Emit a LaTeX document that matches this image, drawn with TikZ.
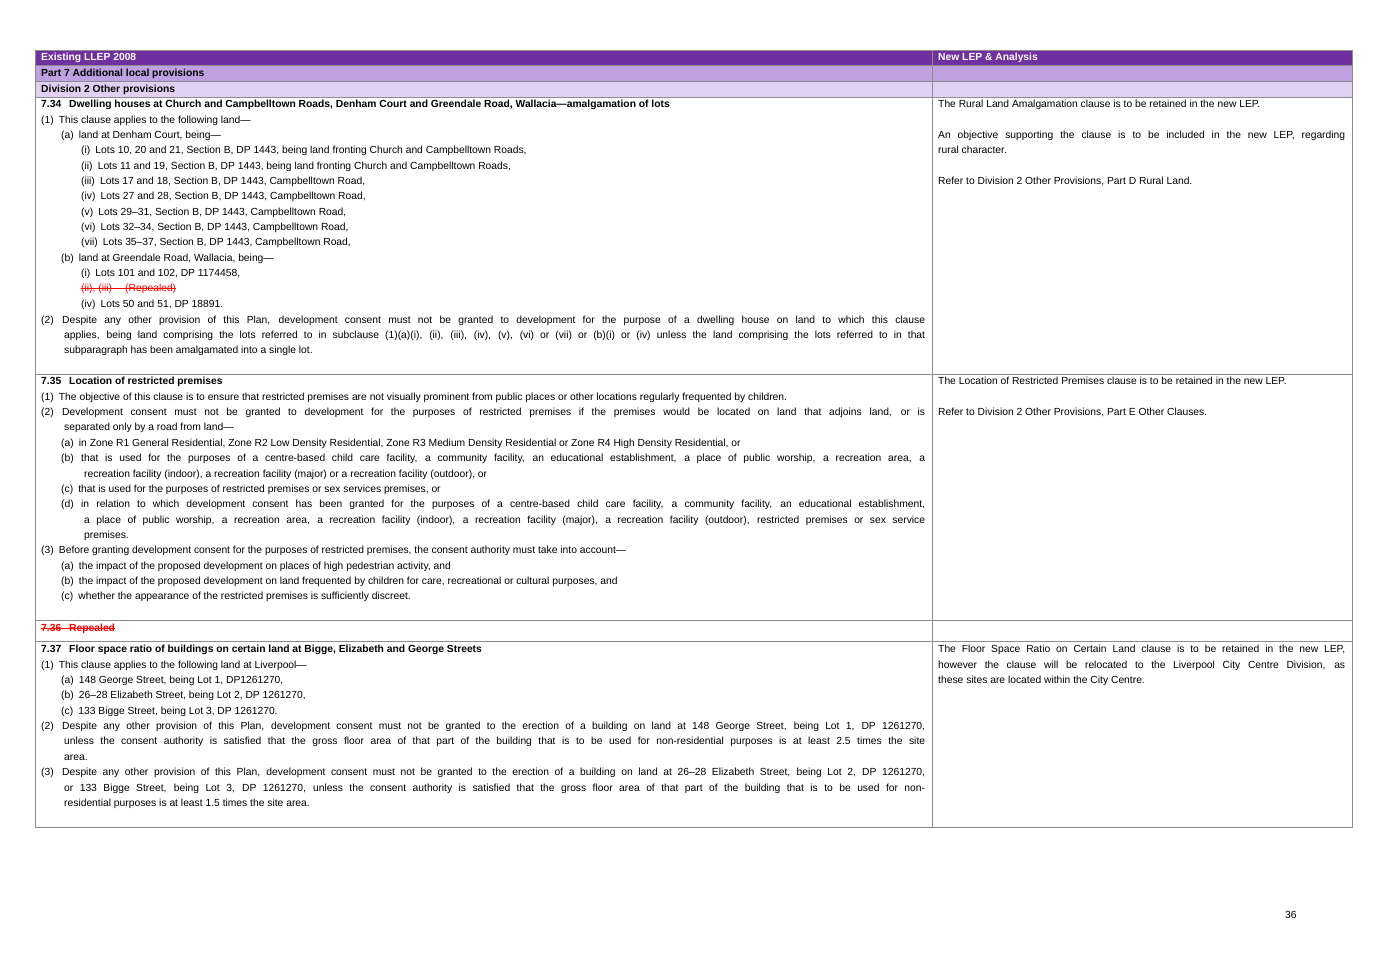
\documentclass[tikz,border=0pt]{standalone}
\usepackage{fontspec}
\setmainfont{Liberation Sans}
\definecolor{hdA}{HTML}{7030A0}
\definecolor{hdB}{HTML}{BFA0E0}
\definecolor{hdC}{HTML}{E2D0F2}
\definecolor{gridc}{HTML}{8C8C8C}
\definecolor{redc}{HTML}{FF0000}
\newcommand\strk[1]{\setbox0\hbox{#1}\rlap{\rule[0.3em]{\wd0}{0.6pt}}\box0}
\newcounter{ln}
\tikzset{txt/.style={anchor=base west,inner sep=0pt,font=\fontsize{10.3}{12}\selectfont}}
\newcommand\tl[3]{\stepcounter{ln}\node[txt] (t\theln) at (#1,#2+3.7) {#3};}
\newcommand\jl[4]{\stepcounter{ln}\node[txt] (t\theln) at (#1,#2+3.7) {\hbox to #3pt{#4}};}
\begin{document}
\begin{tikzpicture}[x=1pt,y=-1pt]
\useasboundingbox (0,0) rectangle (1382,977);
\fill[white] (0,0) rectangle (1382,977);
% header fills
\fill[hdA] (35,50) rectangle (1352,65);
\fill[hdB] (35,65) rectangle (1352,81);
\fill[hdC] (35,81) rectangle (1352,97);
% grid
\draw[gridc,line width=0.8pt] (35,50) rectangle (1352,827);
\draw[gridc,line width=0.8pt] (932,50) -- (932,827);
\foreach \yy in {65,81,97,374,620,641} \draw[gridc,line width=0.8pt] (35,\yy) -- (1352,\yy);
% headers
\tl{41}{57}{\color{white}\bfseries Existing LLEP 2008}
\tl{938}{57}{\color{white}\bfseries New LEP \& Analysis}
\tl{41}{73}{\bfseries Part 7 Additional local provisions}
\tl{41}{89}{\bfseries Division 2 Other provisions}
% 7.34
\tl{41}{104}{\bfseries 7.34\enspace\ Dwelling houses at Church and Campbelltown Roads, Denham Court and Greendale Road, Wallacia—amalgamation of lots}
\tl{41}{120}{(1)\enspace This clause applies to the following land—}
\tl{61}{135}{(a)\enspace land at Denham Court, being—}
\tl{81}{150}{(i)\enspace Lots 10, 20 and 21, Section B, DP 1443, being land fronting Church and Campbelltown Roads,}
\tl{81}{166}{(ii)\enspace Lots 11 and 19, Section B, DP 1443, being land fronting Church and Campbelltown Roads,}
\tl{81}{181}{(iii)\enspace Lots 17 and 18, Section B, DP 1443, Campbelltown Road,}
\tl{81}{196}{(iv)\enspace Lots 27 and 28, Section B, DP 1443, Campbelltown Road,}
\tl{81}{212}{(v)\enspace Lots 29–31, Section B, DP 1443, Campbelltown Road,}
\tl{81}{227}{(vi)\enspace Lots 32–34, Section B, DP 1443, Campbelltown Road,}
\tl{81}{242}{(vii)\enspace Lots 35–37, Section B, DP 1443, Campbelltown Road,}
\tl{61}{258}{(b)\enspace land at Greendale Road, Wallacia, being—}
\tl{81}{273}{(i)\enspace Lots 101 and 102, DP 1174458,}
\tl{81}{288}{\color{redc}\strk{(ii), (iii)\quad\ (Repealed)}}
\tl{81}{304}{(iv)\enspace Lots 50 and 51, DP 18891.}
\tl{41}{320}{(2)}
\jl{62}{320}{863}{Despite any other provision of this Plan, development consent must not be granted to development for the purpose of a dwelling house on land to which this clause}
\jl{64}{335}{861}{applies, being land comprising the lots referred to in subclause (1)(a)(i), (ii), (iii), (iv), (v), (vi) or (vii) or (b)(i) or (iv) unless the land comprising the lots referred to in that}
\tl{64}{350}{subparagraph has been amalgamated into a single lot.}
\tl{938}{104}{The Rural Land Amalgamation clause is to be retained in the new LEP.}
\jl{938}{135}{407}{An objective supporting the clause is to be included in the new LEP, regarding}
\tl{938}{150}{rural character.}
\tl{938}{181}{Refer to Division 2 Other Provisions, Part D Rural Land.}
% 7.35
\tl{41}{381}{\bfseries 7.35\enspace\ Location of restricted premises}
\tl{41}{397}{(1)\enspace The objective of this clause is to ensure that restricted premises are not visually prominent from public places or other locations regularly frequented by children.}
\tl{41}{412}{(2)}
\jl{62}{412}{863}{Development consent must not be granted to development for the purposes of restricted premises if the premises would be located on land that adjoins land, or is}
\tl{64}{427}{separated only by a road from land—}
\tl{61}{443}{(a)\enspace in Zone R1 General Residential, Zone R2 Low Density Residential, Zone R3 Medium Density Residential or Zone R4 High Density Residential, or}
\tl{61}{458}{(b)}
\jl{81}{458}{844}{that is used for the purposes of a centre-based child care facility, a community facility, an educational establishment, a place of public worship, a recreation area, a}
\tl{84}{474}{recreation facility (indoor), a recreation facility (major) or a recreation facility (outdoor), or}
\tl{61}{489}{(c)\enspace that is used for the purposes of restricted premises or sex services premises, or}
\tl{61}{504}{(d)}
\jl{81}{504}{844}{in relation to which development consent has been granted for the purposes of a centre-based child care facility, a community facility, an educational establishment,}
\jl{84}{520}{841}{a place of public worship, a recreation area, a recreation facility (indoor), a recreation facility (major), a recreation facility (outdoor), restricted premises or sex service}
\tl{84}{535}{premises.}
\tl{41}{550}{(3)\enspace Before granting development consent for the purposes of restricted premises, the consent authority must take into account—}
\tl{61}{566}{(a)\enspace the impact of the proposed development on places of high pedestrian activity, and}
\tl{61}{581}{(b)\enspace the impact of the proposed development on land frequented by children for care, recreational or cultural purposes, and}
\tl{61}{596}{(c)\enspace whether the appearance of the restricted premises is sufficiently discreet.}
\tl{938}{381}{The Location of Restricted Premises clause is to be retained in the new LEP.}
\tl{938}{412}{Refer to Division 2 Other Provisions, Part E Other Clauses.}
% 7.36
\tl{41}{628}{\color{redc}\bfseries\strk{7.36\enspace\ Repealed}}
% 7.37
\tl{41}{649}{\bfseries 7.37\enspace\ Floor space ratio of buildings on certain land at Bigge, Elizabeth and George Streets}
\tl{41}{665}{(1)\enspace This clause applies to the following land at Liverpool—}
\tl{61}{680}{(a)\enspace 148 George Street, being Lot 1, DP1261270,}
\tl{61}{695}{(b)\enspace 26–28 Elizabeth Street, being Lot 2, DP 1261270,}
\tl{61}{711}{(c)\enspace 133 Bigge Street, being Lot 3, DP 1261270.}
\tl{41}{726}{(2)}
\jl{62}{726}{863}{Despite any other provision of this Plan, development consent must not be granted to the erection of a building on land at 148 George Street, being Lot 1, DP 1261270,}
\jl{64}{741}{861}{unless the consent authority is satisfied that the gross floor area of that part of the building that is to be used for non-residential purposes is at least 2.5 times the site}
\tl{64}{757}{area.}
\tl{41}{772}{(3)}
\jl{62}{772}{863}{Despite any other provision of this Plan, development consent must not be granted to the erection of a building on land at 26–28 Elizabeth Street, being Lot 2, DP 1261270,}
\jl{64}{788}{861}{or 133 Bigge Street, being Lot 3, DP 1261270, unless the consent authority is satisfied that the gross floor area of that part of the building that is to be used for non-}
\tl{64}{803}{residential purposes is at least 1.5 times the site area.}
\jl{938}{649}{407}{The Floor Space Ratio on Certain Land clause is to be retained in the new LEP,}
\jl{938}{665}{407}{however the clause will be relocated to the Liverpool City Centre Division, as}
\tl{938}{680}{these sites are located within the City Centre.}
% page number
\node[txt] (pg) at (1285,918) {36};
\end{tikzpicture}
\end{document}
